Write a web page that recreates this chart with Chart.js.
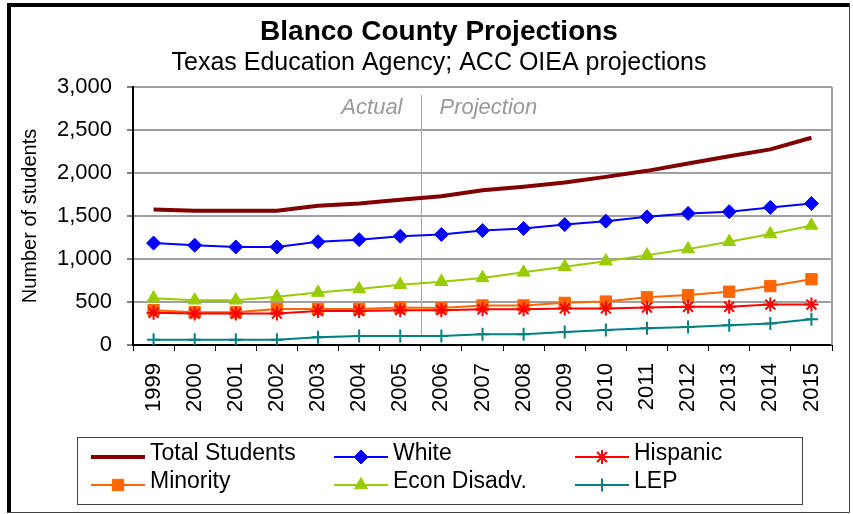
<!DOCTYPE html>
<html>
<head>
<meta charset="utf-8">
<title>Blanco County Projections</title>
<script src="https://cdn.jsdelivr.net/npm/chart.js@4/dist/chart.umd.min.js"></script>
<style>
  html, body { margin: 0; padding: 0; background: #fff; }
  canvas { display: block; }
</style>
</head>
<body>
<canvas id="chart" width="853" height="514"></canvas>
<script>
const years = ['1999', '2000', '2001', '2002', '2003', '2004', '2005', '2006', '2007',
    '2008', '2009', '2010', '2011', '2012', '2013', '2014', '2015'];

const totalStudents = [1575, 1560, 1560, 1560, 1620, 1645, 1690, 1730, 1800, 1840, 1890, 1955, 2025, 2110, 2195, 2275, 2410];
const white = [1185, 1160, 1140, 1140, 1200, 1225, 1265, 1285, 1330, 1355, 1400, 1440, 1490, 1530, 1550, 1600, 1645];
const hispanic = [375, 365, 365, 365, 395, 395, 405, 405, 415, 415, 425, 425, 435, 445, 445, 470, 470];
const minority = [405, 380, 380, 420, 420, 420, 435, 430, 460, 460, 490, 505, 555, 580, 620, 685, 765];
const econDisadv = [545, 520, 520, 560, 610, 650, 700, 735, 780, 845, 910, 975, 1045, 1115, 1200, 1290, 1390];
const lep = [60, 60, 60, 60, 90, 105, 105, 105, 125, 125, 150, 175, 195, 210, 230, 250, 300];

const yMin = 0;
const yMax = 3000;
const yStep = 500;
const firstProjectedYear = '2006';

const fontFamily = "'Liberation Sans', Arial, sans-serif";
Chart.defaults.font.family = fontFamily;
Chart.defaults.color = '#000';

function series(label, data, color, style, radius, width, pointBorder) {
    return {
        label: label,
        data: data,
        borderColor: color,
        backgroundColor: color,
        borderWidth: width,
        pointStyle: style,
        pointRadius: radius,
        pointBackgroundColor: color,
        pointBorderColor: color,
        pointBorderWidth: pointBorder,
        pointHoverRadius: radius,
        tension: 0,
        fill: false
    };
}

// plot border, actual / projection split, legend and outer frame
const decorations = {
    id: 'decorations',
    beforeDraw(chart) {
        const ctx = chart.ctx;
        ctx.save();
        ctx.fillStyle = '#fff';
        ctx.fillRect(0, 0, chart.width, chart.height);
        ctx.restore();
    },
    beforeDatasetsDraw(chart) {
        const { ctx, chartArea: area, scales: { x } } = chart;
        ctx.save();

        ctx.strokeStyle = '#a0a0a0';
        ctx.lineWidth = 2;
        ctx.beginPath();
        ctx.moveTo(area.right, area.top);
        ctx.lineTo(area.right, area.bottom);
        ctx.stroke();

        const idx = years.indexOf(firstProjectedYear);
        const xd = Math.round((x.getPixelForValue(idx - 1) + x.getPixelForValue(idx)) / 2) + 0.5;
        ctx.strokeStyle = '#a6a6a6';
        ctx.lineWidth = 1;
        ctx.beginPath();
        ctx.moveTo(xd, area.top + 8);
        ctx.lineTo(xd, area.bottom - 8);
        ctx.stroke();

        ctx.fillStyle = '#999999';
        ctx.font = 'italic 22px ' + fontFamily;
        ctx.textBaseline = 'alphabetic';
        ctx.textAlign = 'right';
        ctx.fillText('Actual', xd - 19, area.top + 27);
        ctx.textAlign = 'left';
        ctx.fillText('Projection', xd + 18, area.top + 27);
        ctx.restore();
    },
    afterDraw(chart) {
        const ctx = chart.ctx;
        ctx.save();

        // legend: three columns, two rows, boxed
        const box = { left: 77.5, top: 437.5, right: 802.5, bottom: 504.5 };
        ctx.strokeStyle = '#404040';
        ctx.lineWidth = 1;
        ctx.strokeRect(box.left, box.top, box.right - box.left, box.bottom - box.top);

        const cols = [91, 334, 575];
        const rows = [457, 485];
        chart.data.datasets.forEach((ds, i) => {
            const x0 = cols[i % 3];
            const y = rows[Math.floor(i / 3)];
            ctx.strokeStyle = ds.borderColor;
            ctx.lineWidth = ds.borderWidth;
            ctx.beginPath();
            ctx.moveTo(x0, y);
            ctx.lineTo(x0 + 54, y);
            ctx.stroke();
            if (ds.pointRadius > 0) {
                ctx.fillStyle = ds.pointBackgroundColor;
                ctx.strokeStyle = ds.pointBorderColor;
                ctx.lineWidth = ds.pointBorderWidth;
                Chart.helpers.drawPoint(ctx, {
                    pointStyle: ds.pointStyle,
                    radius: ds.pointRadius,
                    borderWidth: ds.pointBorderWidth,
                    rotation: 0
                }, x0 + 27, y);
            }
            ctx.fillStyle = '#000';
            ctx.font = '23px ' + fontFamily;
            ctx.textAlign = 'left';
            ctx.textBaseline = 'alphabetic';
            ctx.fillText(ds.label, x0 + 59, y + 3);
        });

        // outer frame
        ctx.fillStyle = '#000';
        ctx.fillRect(7, 3, chart.width - 11, 4);
        ctx.fillRect(7, 3, 4, chart.height - 5);
        ctx.strokeStyle = '#404040';
        ctx.lineWidth = 1;
        ctx.beginPath();
        ctx.moveTo(849.5, 3);
        ctx.lineTo(849.5, 512.5);
        ctx.lineTo(7, 512.5);
        ctx.stroke();
        ctx.restore();
    }
};

const ctx = document.getElementById('chart').getContext('2d');
const chart = new Chart(ctx, {
    type: 'line',
    data: {
        labels: years,
        datasets: [
            series('Total Students', totalStudents, '#800000', 'circle', 0, 4, 0),
            series('White', white, '#0000ff', 'rectRot', 7, 2, 1),
            series('Hispanic', hispanic, '#ff0000', 'star', 7, 2, 2),
            series('Minority', minority, '#ff6600', 'rect', 8, 2, 1),
            series('Econ Disadv.', econDisadv, '#99cc00', 'triangle', 7.5, 2, 1),
            series('LEP', lep, '#008080', 'cross', 6.5, 2, 2)
        ]
    },
    options: {
        responsive: false,
        animation: false,
        events: [],
        layout: { padding: { left: 46, right: 21, top: 0, bottom: 89 } },
        plugins: {
            legend: { display: false },
            tooltip: { enabled: false },
            title: {
                display: true,
                text: 'Blanco County Projections',
                font: { size: 28, weight: 'bold', lineHeight: 1.0 },
                color: '#000',
                padding: { top: 18, bottom: 1 }
            },
            subtitle: {
                display: true,
                text: 'Texas Education Agency; ACC OIEA projections',
                font: { size: 25, lineHeight: 1.0 },
                color: '#000',
                padding: { top: 4, bottom: 11 }
            }
        },
        scales: {
            x: {
                offset: true,
                grid: {
                    display: true,
                    drawOnChartArea: false,
                    offset: true,
                    tickLength: 6,
                    tickColor: '#000',
                    tickWidth: 1
                },
                border: { color: '#000', width: 2 },
                ticks: {
                    font: { size: 22 },
                    color: '#000',
                    minRotation: 90,
                    maxRotation: 90,
                    autoSkip: false,
                    padding: 12
                },
                afterFit(scale) { scale.height = 80; }
            },
            y: {
                min: yMin,
                max: yMax,
                ticks: {
                    stepSize: yStep,
                    font: { size: 22 },
                    color: '#000',
                    padding: 15,
                    callback: v => v.toLocaleString('en-US')
                },
                grid: {
                    color: '#a0a0a0',
                    lineWidth: 2,
                    tickColor: '#000',
                    tickLength: 6,
                    tickWidth: 1
                },
                border: { color: '#000', width: 2 },
                title: {
                    display: true,
                    text: 'Number of students',
                    font: { size: 20 },
                    color: '#000',
                    padding: { top: -28, bottom: 0 }
                },
                afterFit(scale) { scale.width = 87; }
            }
        }
    },
    plugins: [decorations]
});
</script>
</body>
</html>
